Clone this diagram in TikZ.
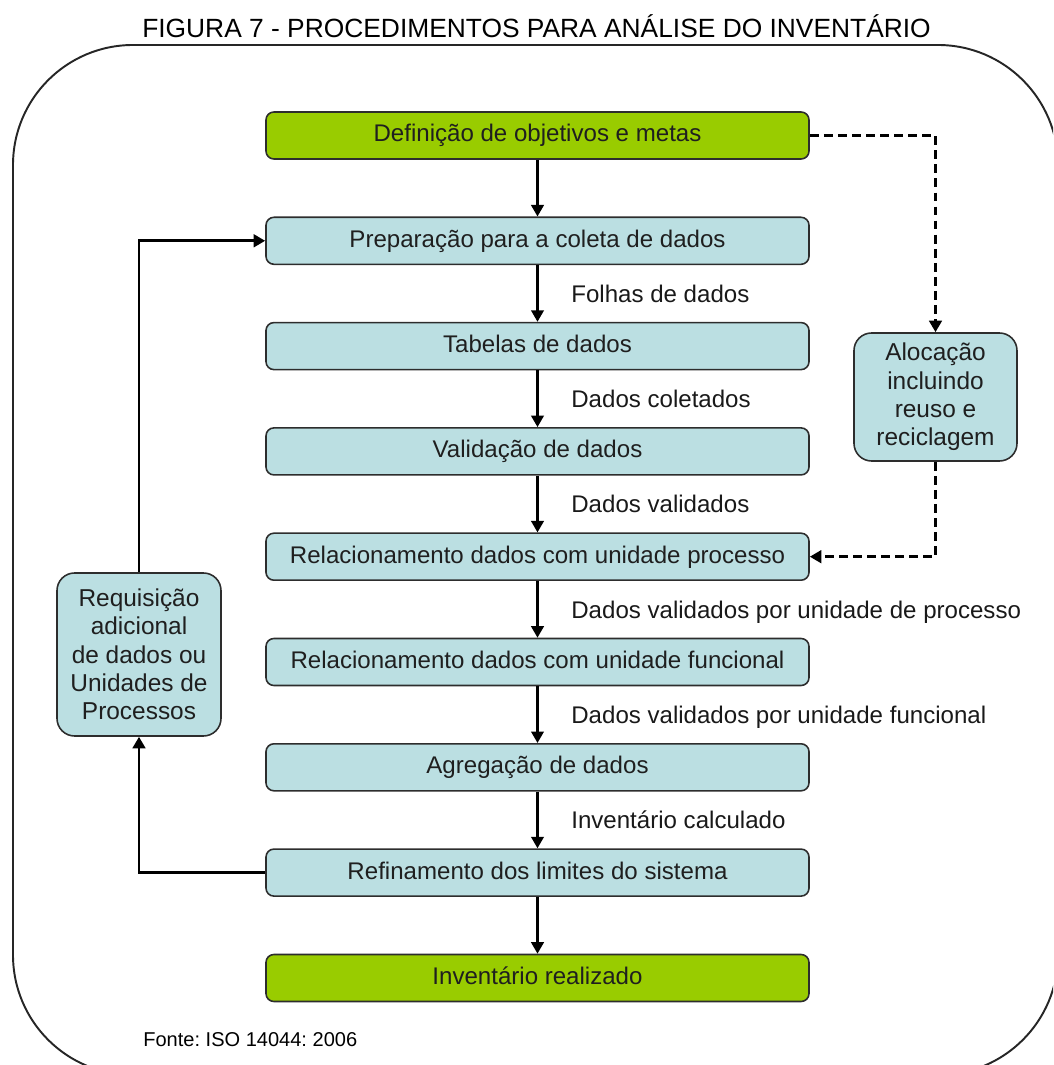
\documentclass[tikz,border=0pt]{standalone}
\usepackage{fontspec}
\setmainfont{Liberation Sans}
\usetikzlibrary{arrows.meta}
\usepackage{xcolor}
\definecolor{verdemeta}{RGB}{153,204,0}
\definecolor{azuletapa}{RGB}{187,223,226}
\definecolor{bordacinza}{RGB}{45,45,45}
\frenchspacing

\begin{document}
\begin{tikzpicture}[
 etapa/.style={draw=bordacinza,line width=0.9pt,fill=azuletapa,rounded corners=4.5pt,minimum width=10.86cm,minimum height=0.94cm,inner sep=0pt,text height=0.8em,text depth=0.06em,text=black!88,font=\fontsize{13.7}{16.1}\selectfont},
 meta/.style={etapa,fill=verdemeta},
 lateral/.style={draw=bordacinza,line width=0.9pt,fill=azuletapa,rounded corners=10pt,align=center,inner sep=0pt,text=black!88,font=\fontsize{13.9}{16.1}\selectfont},
 rotulo/.style={anchor=base west,inner sep=0pt,text=black!90,font=\fontsize{13.7}{16.1}\selectfont},
 seta/.style={-{Triangle[length=2.3mm,width=2.5mm]},line width=1.4pt},
 laco/.style={seta,line width=1.7pt},
 tracejada/.style={seta,line width=1.7pt,dash pattern=on 5pt off 3pt}]
 \useasboundingbox (0,0) rectangle (21.06,21.3);
 \clip (0,0) rectangle (21.06,21.3);
 % moldura
 \draw[line width=1.1pt,black!85,rounded corners=2.4cm] (0.26,-0.2) rectangle (21.16,20.4);
 \node[anchor=base,font=\fontsize{15}{18}\selectfont] (titulo) at (10.73,20.54) {FIGURA 7 - PROCEDIMENTOS PARA ANÁLISE DO INVENTÁRIO};
 %
 \node[meta] (e1) at (10.75,18.59) {Definição de objetivos e metas};
 \foreach \Z/\T in {2/Preparação para a coleta de dados,3/Tabelas de dados,4/Validação de dados,5/Relacionamento dados com unidade processo,6/Relacionamento dados com unidade funcional,7/Agregação de dados,8/Refinamento dos limites do sistema}
 {\node[etapa] (e\Z) at (10.75,{18.59-2.106*(\Z-1)}) {\T};}
 \node[meta] (e9) at (10.75,1.74) {Inventário realizado};
 %
 \foreach \Z in {1,...,8}
 {\pgfmathtruncatemacro{\N}{\Z+1}
 \draw[seta] (e\Z) -- (e\N);}
 \foreach \Z/\T in {2/Folhas de dados,3/Dados coletados,4/Dados validados,5/Dados validados por unidade de processo,6/Dados validados por unidade funcional,7/Inventário calculado}
 {\node[rotulo] (r\Z) at (11.42,{18.59-2.106*(\Z-1)-1.23}) {\T};}
 %
 \node[lateral,minimum width=3.26cm,minimum height=2.56cm] (aloc) at (18.71,13.36) {Alocação\\incluindo\\reuso e\\reciclagem};
 \node[lateral,minimum width=3.28cm,minimum height=3.26cm] (req) at (2.78,8.21) {Requisição\\adicional\\de dados ou\\Unidades de\\Processos};
 \draw[tracejada] (e1.east) -| (aloc.north);
 \draw[tracejada] (aloc.south) |- (e5.east);
 \draw[laco] (e8.west) -| (req.south);
 \draw[laco] (req.north) |- (e2.west);
 %
 \node[anchor=base west,inner sep=0pt,font=\fontsize{11.4}{14}\selectfont] (fonte) at (2.86,0.36) {Fonte: ISO 14044: 2006};
\end{tikzpicture}
\end{document}
